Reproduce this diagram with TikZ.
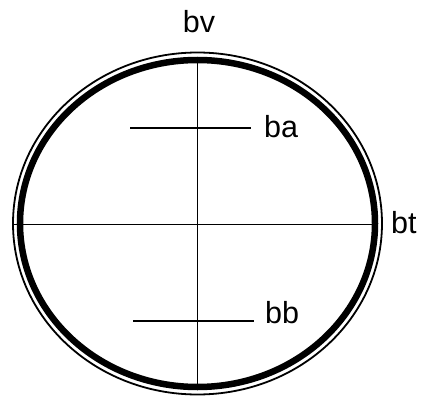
\documentclass[tikz,border=0pt]{standalone}
\usepackage{fontspec}
\setmainfont{Liberation Sans}
\begin{document}
\begin{tikzpicture}[x=1pt,y=-1pt,
  lbl/.style={inner sep=0pt,font=\fontsize{30.5}{36}\selectfont},
  axis/.style={line width=1.8pt}]
\useasboundingbox (0,0) rectangle (423,396);
\coordinate (c) at (197.5,223.5);
\coordinate (top) at (197.5,60);
\coordinate (bot) at (197.5,388);
\coordinate (left) at (13,224.5);
\coordinate (right) at (372,224.5);
\coordinate (a1) at (130,128);
\coordinate (a2) at (251,128);
\coordinate (b1) at (133,321);
\coordinate (b2) at (254,321);
\draw[axis] (top) -- (bot);
\draw[axis] (left) -- (right);
\draw[axis] (a1) -- (a2);
\draw[axis] (b1) -- (b2);
\draw[line width=6.5pt] (c) ellipse [x radius=177.5, y radius=163.5];
\draw[line width=1.8pt] (c) ellipse [x radius=184.5, y radius=171];
\node[lbl,anchor=base] (bv) at (199,33) {bv};
\node[lbl,anchor=base west] (ba) at (264,137) {ba};
\node[lbl,anchor=base west] (bt) at (391,233) {bt};
\node[lbl,anchor=base west] (bb) at (265,323) {bb};
\end{tikzpicture}
\end{document}
